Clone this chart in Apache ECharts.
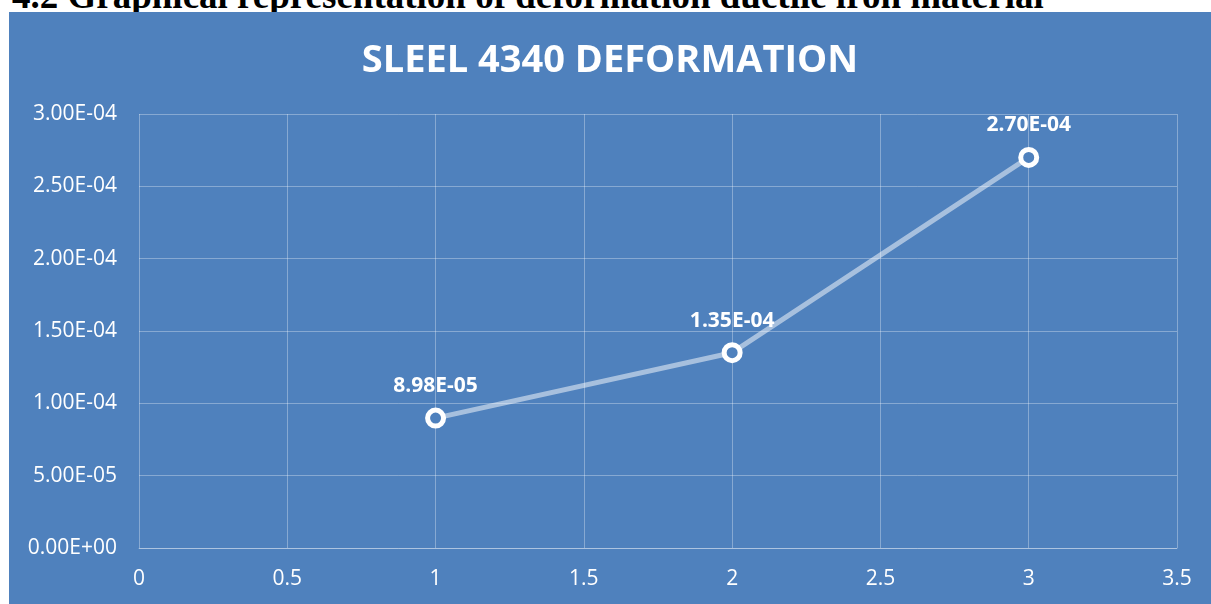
<!DOCTYPE html>
<html>
<head>
<meta charset="utf-8">
<script src="https://cdn.jsdelivr.net/npm/echarts@6/dist/echarts.min.js"></script>
<style>
  html, body { margin: 0; padding: 0; background: #fff; width: 1211px; height: 604px; overflow: hidden; }
  #heading { position: absolute; left: 12px; top: -23px; font: bold 37px/37px "Liberation Serif", "DejaVu Serif", serif; color: #000; white-space: nowrap; }
  #chart { position: absolute; left: 9px; top: 12px; width: 1202px; height: 592px; }
</style>
</head>
<body>
<div id="heading">4.2 Graphical representation of deformation ductile iron material</div>
<div id="chart"></div>
<script>
// data points
var xValues = [1, 2, 3]
var deformation = [8.98e-5, 1.35e-4, 2.70e-4]
var chartTitle = 'SLEEL 4340 DEFORMATION'

// excel style 3.00E-04
function sci(v) {
  if (v === 0) return '0.00E+00'
  var s = Number(v).toExponential(2).toUpperCase()
  var parts = s.split('E')
  var exp = parseInt(parts[1], 10)
  var sign = exp < 0 ? '-' : '+'
  var e = Math.abs(exp)
  return parts[0] + 'E' + sign + (e < 10 ? '0' + e : e)
}

var points = []
for (let i = 0; i < xValues.length; i++) {
  points.push([xValues[i], deformation[i]])
}

var gridColor = 'rgba(255,255,255,0.32)'
var chart = echarts.init(document.getElementById('chart'))
chart.setOption({
  backgroundColor: '#4f81bd',
  animation: false,
  title: {
    text: chartTitle,
    left: 'center',
    top: 25,
    textStyle: { color: '#fff', fontSize: 38, fontWeight: 'bold', fontFamily: 'Open Sans' }
  },
  grid: { left: 130, top: 102, right: 34, bottom: 56 },
  xAxis: {
    type: 'value',
    min: 0, max: 3.5, interval: 0.5,
    axisLine: { lineStyle: { color: gridColor } },
    axisTick: { show: false },
    axisLabel: { color: '#fff', fontSize: 21, fontFamily: 'Open Sans', margin: 21 },
    splitLine: { lineStyle: { color: gridColor } }
  },
  yAxis: {
    type: 'value',
    min: 0, max: 3e-4, interval: 5e-5,
    axisLine: { show: false },
    axisTick: { show: false },
    axisLabel: { color: '#fff', fontSize: 21, fontFamily: 'Open Sans', margin: 22, formatter: sci },
    splitLine: { lineStyle: { color: gridColor } }
  },
  series: [{
    type: 'line',
    data: points,
    symbol: 'circle',
    symbolSize: 16,
    lineStyle: { color: 'rgba(255,255,255,0.5)', width: 5 },
    itemStyle: { color: '#4f81bd', borderColor: '#fff', borderWidth: 5 },
    label: {
      show: true, position: 'top', distance: 11,
      color: '#fff', fontSize: 21, fontWeight: 'bold', fontFamily: 'Open Sans',
      formatter: function (p) { return sci(p.value[1]) }
    }
  }]
})
</script>
</body>
</html>
